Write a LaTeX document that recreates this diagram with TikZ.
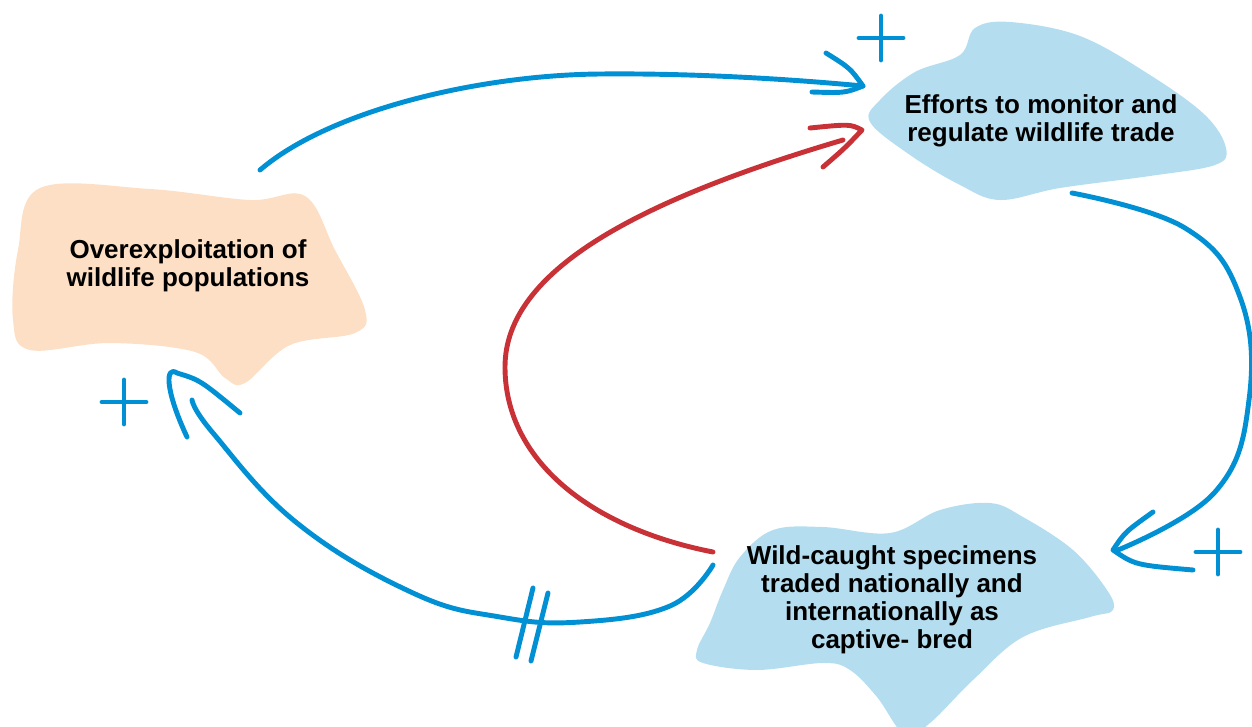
\documentclass[tikz,border=0pt]{standalone}
\usepackage{fontspec}
\setmainfont{Liberation Sans}
\usepackage{xcolor}
\usetikzlibrary{calc}
\definecolor{loopblue}{RGB}{0,144,211}
\definecolor{loopred}{RGB}{200,50,55}
\definecolor{blobblue}{RGB}{180,222,240}
\definecolor{blobpeach}{RGB}{252,223,196}

\begin{document}
\begin{tikzpicture}[
        x=0.02cm, y=-0.02cm,
        lbl/.style={align=center, font=\bfseries\fontsize{14.8}{16}\selectfont, text=black},
        cable/.style={line width=2.8pt, line cap=round, line join=round},
        sign/.style={cable, draw=loopblue}
      ]
        \useasboundingbox (0,0) rectangle (1252,727);
        % blobs
        \fill[blobpeach] plot[smooth cycle, tension=0.6] coordinates {(40,188) (150,189) (250,200) (305,196) (335,250) (365,310) (355,333) (290,345) (245,383) (225,378) (195,352) (110,343) (30,350) (13,320) (18,250)};
        \fill[blobblue] plot[smooth cycle, tension=0.6] coordinates {(975,28) (1010,22) (1080,36) (1150,75) (1205,115) (1226,148) (1215,165) (1150,176) (1060,188) (1000,200) (960,185) (910,155) (870,122) (880,100) (915,72) (960,55)};
        \fill[blobblue] plot[smooth cycle, tension=0.6] coordinates {(990,503) (1023,517) (1073,550) (1107,590) (1113,610) (1090,617) (1023,637) (973,680) (930,723) (905,735) (877,697) (850,670) (823,663) (757,670) (703,663) (697,650) (710,623) (723,590) (740,557) (773,530) (823,527) (890,533) (940,510)};
        \node[lbl] (exploit) at (188,266) {Overexploitation of\\wildlife populations};
        \node[lbl] (monitor) at (1041,121) {Efforts to monitor and\\regulate wildlife trade};
        \node[lbl] (trade) at (892,600) {Wild-caught specimens\\traded nationally and\\internationally as\\captive- bred};
        % connector ends
        \coordinate (exploit-out) at (260,170);
        \coordinate (monitor-in1) at (863,86);
        \coordinate (monitor-in2) at (862,130);
        \coordinate (monitor-out) at (1072,193);
        \coordinate (trade-in) at (1113,550);
        \coordinate (trade-out1) at (713,552);
        \coordinate (trade-out2) at (713,565);
        \coordinate (exploit-in) at (177,373);
        % exploit -> monitor
        \draw[cable, loopblue] (exploit-out) .. controls (330,110) and (480,75) .. (600,74) .. controls (700,73) and (800,80) .. (monitor-in1);
        \draw[cable, loopblue] (826,53) .. controls (850,68) .. (monitor-in1) .. controls (845,93) .. (812,92);
        % trade -> monitor
        \draw[cable, loopred] (trade-out1) .. controls (590,528) and (505,460) .. (505,367) .. controls (505,270) and (640,200) .. (843,140);
        \draw[cable, loopred] (810,128) .. controls (850,124) .. (monitor-in2) .. controls (845,148) .. (823,167);
        % monitor -> trade
        \draw[cable, loopblue] plot[smooth, tension=0.7] coordinates {(monitor-out) (1185,228) (1240,297) (1249,400) (1215,492) (1118,550)};
        \draw[cable, loopblue] (1153,512) .. controls (1125,532) .. (trade-in) .. controls (1135,565) .. (1193,570);
        % trade -> exploit
        \draw[cable, loopblue] plot[smooth, tension=0.7] coordinates {(trade-out2) (670,606) (580,622) (500,617) (413,593) (297,523) (213,433) (192,400)};
        \draw[cable, loopblue] (187,437) .. controls (165,390) and (165,365) .. (exploit-in) .. controls (200,380) .. (240,413);
        \draw[cable, loopblue] (533,588) -- (516,657);
        \draw[cable, loopblue] (548,593) -- (531,661);
        % polarity signs
        \foreach \cx/\cy in {881/38, 124/402, 1218/552}
          \draw[sign] (\cx-22,\cy) -- (\cx+22,\cy) (\cx,\cy-22) -- (\cx,\cy+22);
      \end{tikzpicture}
\end{document}
